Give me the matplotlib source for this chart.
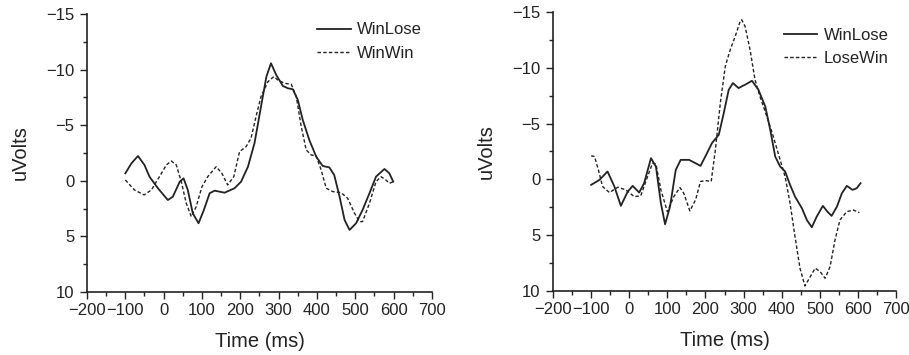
import numpy as np
import matplotlib.pyplot as plt
from matplotlib.ticker import MultipleLocator

plt.rcParams['font.family'] = ['Liberation Sans', 'DejaVu Sans']

# ERP waveforms, left panel: WinLose vs WinWin
t_wl_a = [-100, -84, -67, -50, -37, -15, 11, 24, 42, 52, 63, 76, 91, 105, 120,
          133, 159, 185, 202, 220, 237, 254, 268, 280, 294, 311, 324, 337, 350,
          363, 380, 398, 415, 432, 445, 459, 472, 485, 502, 519, 537, 554, 576,
          589, 599]
v_wl_a = [-0.67, -1.57, -2.23, -1.42, -0.37, 0.67, 1.73, 1.43, 0.08, -0.22, 0.83,
          2.92, 3.82, 2.62, 1.12, 0.89, 1.07, 0.67, 0.08, -1.27, -3.38, -6.67,
          -9.36, -10.57, -9.5, -8.53, -8.32, -8.23, -7.27, -5.47, -3.67, -2.17,
          -1.33, -1.21, -0.52, 1.43, 3.52, 4.42, 3.82, 2.62, 1.12, -0.37, -1.06,
          -0.67, 0.08]

t_ww = [-100, -76, -51, -32, -11, 7, 20, 33, 46, 59, 72, 85, 100, 115, 137, 152,
        167, 183, 198, 215, 228, 241, 254, 272, 287, 298, 315, 333, 346, 359,
        372, 385, 398, 411, 424, 441, 463, 480, 498, 511, 519, 537, 554, 567,
        580, 589, 599]
v_ww = [-0.07, 0.83, 1.27, 0.83, -0.37, -1.42, -1.78, -1.42, 0.08, 2.02, 3.22,
        2.32, 0.53, -0.37, -1.27, -0.67, 0.38, -0.37, -2.62, -3.07, -3.83, -5.77,
        -7.57, -8.91, -9.36, -9.07, -8.77, -8.68, -7.57, -4.87, -2.77, -2.32,
        -2.23, -0.97, 0.67, 0.97, 1.07, 1.57, 2.92, 3.67, 3.67, 2.02, 0.08,
        -0.37, -0.07, 0.23, 0.08]

# right panel: WinLose vs LoseWin
t_wl_b = [-100, -78, -57, -39, -22, -4, 9, 26, 39, 57, 70, 83, 94, 107, 122,
          135, 157, 174, 187, 204, 217, 235, 248, 261, 272, 287, 298, 304, 322,
          339, 357, 370, 383, 396, 409, 422, 435, 453, 466, 479, 492, 508, 520,
          531, 545, 558, 571, 586, 597, 607]
v_wl_b = [0.49, 0.04, -0.71, 0.64, 2.37, 1.09, 0.58, 1.18, 0.34, -1.9, -1.15,
          2.13, 4.02, 2.44, -0.85, -1.75, -1.75, -1.45, -1.21, -2.35, -3.25,
          -4.0, -5.94, -8.03, -8.63, -8.18, -8.39, -8.48, -8.84, -8.03, -6.53,
          -4.44, -2.05, -1.15, -0.71, 0.49, 1.54, 2.58, 3.63, 4.29, 3.33, 2.37,
          2.89, 3.27, 2.44, 1.24, 0.58, 0.94, 0.79, 0.34]

t_lw = [-100, -91, -81, -70, -52, -30, -9, 13, 30, 48, 61, 70, 83, 100, 117,
        133, 143, 159, 174, 187, 200, 215, 226, 239, 252, 265, 278, 291, 295,
        304, 317, 330, 343, 361, 378, 396, 409, 422, 435, 448, 461, 475, 488,
        501, 514, 527, 540, 553, 571, 588, 604]
v_lw = [-2.11, -2.05, -0.85, 0.64, 1.18, 0.7, 0.94, 1.54, 1.48, -0.25, -1.45,
        -1.39, 0.94, 2.89, 1.54, 0.73, 1.24, 2.82, 1.84, 0.19, 0.1, 0.19, -2.65,
        -6.84, -10.13, -11.62, -12.81, -14.16, -14.31, -13.71, -11.62, -8.93,
        -7.43, -5.64, -3.84, -1.75, -0.25, 2.13, 5.13, 7.96, 9.55, 8.72, 7.96,
        8.27, 8.86, 7.82, 5.42, 3.63, 2.89, 2.74, 2.98]

panels = [
    (t_wl_a, v_wl_a, t_ww, v_ww, 'WinWin'),
    (t_wl_b, v_wl_b, t_lw, v_lw, 'LoseWin'),
]
axes_rects = [[0.0957, 0.1775, 0.3795, 0.7831],
              [0.6084, 0.1803, 0.3773, 0.7859]]
legend_anchor = [(0.349, 0.937), (0.8625, 0.922)]

fig = plt.figure(figsize=(9.09, 3.55), dpi=100)

for rect, (t1, v1, t2, v2, name), anchor in zip(axes_rects, panels, legend_anchor):
    ax = fig.add_axes(rect)
    ax.plot(t1, v1, color='#222222', lw=1.3, label='WinLose')
    ax.plot(t2, v2, color='#222222', lw=1.0, ls=(0, (2.5, 1.6)), label=name)

    ax.set_xlim(-200, 700)
    ax.set_ylim(10, -15)
    ax.xaxis.set_major_locator(MultipleLocator(100))
    ax.xaxis.set_minor_locator(MultipleLocator(50))
    ax.yaxis.set_major_locator(MultipleLocator(5))
    ax.yaxis.set_minor_locator(MultipleLocator(2.5))
    ax.tick_params(which='major', length=5, width=1, labelsize=12, colors='#222222')
    ax.tick_params(which='minor', length=3, width=1, colors='#222222')
    ax.tick_params(axis='x', pad=3)
    ax.tick_params(axis='y', pad=4)
    for side in ('top', 'right'):
        ax.spines[side].set_visible(False)
    for side in ('left', 'bottom'):
        ax.spines[side].set_color('#222222')
        ax.spines[side].set_linewidth(1.2)

    ax.set_xlabel('Time (ms)', fontsize=14.5, color='#222222', labelpad=10)
    ax.set_ylabel('uVolts', fontsize=14.5, color='#222222', labelpad=12)

    leg = ax.legend(loc='upper left', bbox_to_anchor=anchor,
                    bbox_transform=fig.transFigure, frameon=False,
                    fontsize=12, handlelength=2.0, handletextpad=0.4,
                    labelspacing=0.5, borderpad=0, borderaxespad=0)
    for txt in leg.get_texts():
        txt.set_color('#222222')

fig.savefig('out.png', dpi=100)
